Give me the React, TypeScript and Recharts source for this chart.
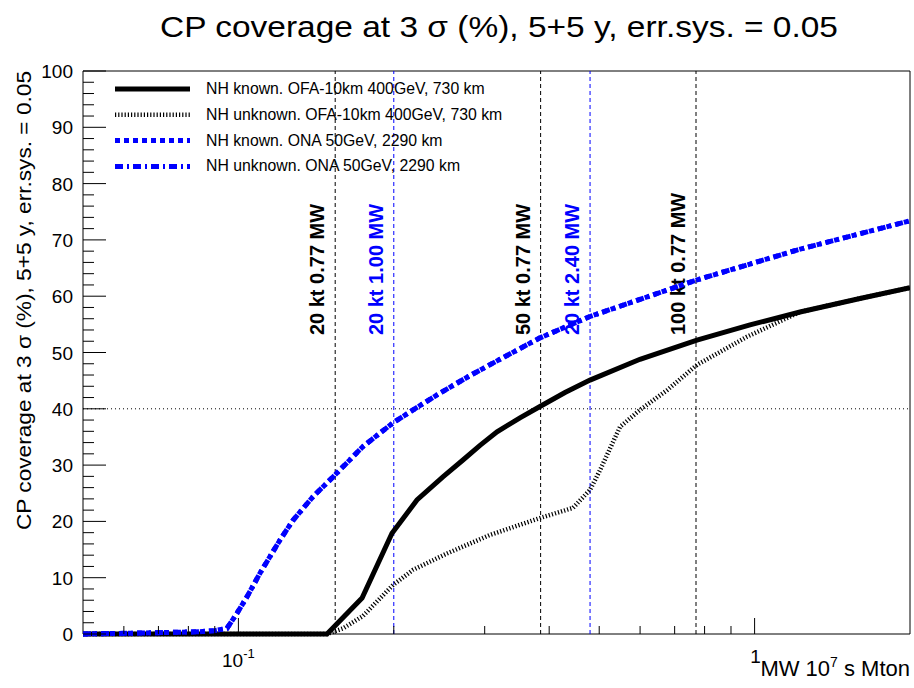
import React from "react";
import { LineChart, Line, XAxis, YAxis, ReferenceLine, ReferenceArea, Legend } from "recharts";

// MW 10^7 s Mton exposure vs CP coverage (%)
const knownOfaX = [0.05, 0.1485, 0.1736, 0.1984, 0.2218, 0.249, 0.2723, 0.2938, 0.317, 0.3511, 0.3839, 0.4292, 0.4799, 0.5997, 0.7733, 0.9797, 1.2245, 1.6, 2.0];
const knownOfaY = [0, 0, 6.4, 17.9, 23.8, 27.9, 30.9, 33.5, 35.9, 38.4, 40.4, 42.9, 45.1, 48.8, 52.2, 54.9, 57.2, 59.6, 61.5];

const unknownOfaX = [0.05, 0.1485, 0.1595, 0.1743, 0.1993, 0.218, 0.2535, 0.3073, 0.3839, 0.4448, 0.4799, 0.5018, 0.5487, 0.5997, 0.6766, 0.7733, 0.9667, 1.2245, 1.6, 2.0];
const unknownOfaY = [0, 0, 1.0, 3.2, 8.7, 11.4, 14.3, 17.6, 20.6, 22.4, 25.6, 29.1, 36.8, 39.8, 43.3, 47.8, 52.8, 57.2, 59.6, 61.5];

const onaX = [0.05, 0.0674, 0.0842, 0.0901, 0.095, 0.0994, 0.1039, 0.1101, 0.1204, 0.1276, 0.1395, 0.1525, 0.1743, 0.1993, 0.218, 0.2458, 0.281, 0.3212, 0.3839, 0.4799, 0.7733, 1.2084, 2.0];
const onaY = [0, 0.2, 0.4, 0.6, 1.0, 3.7, 6.6, 10.8, 16.7, 20.2, 24.4, 27.9, 33.3, 37.5, 39.8, 42.8, 45.9, 48.8, 52.6, 56.4, 62.9, 68.2, 73.4];

const xTicks = [0.06, 0.07, 0.08, 0.09, 0.1, 0.2, 0.3, 0.4, 0.5, 0.6, 0.7, 0.8, 0.9, 1];
const yTicks = [0, 2, 4, 6, 8, 10, 12, 14, 16, 18, 20, 22, 24, 26, 28, 30, 32, 34, 36, 38, 40, 42, 44, 46, 48, 50,
  52, 54, 56, 58, 60, 62, 64, 66, 68, 70, 72, 74, 76, 78, 80, 82, 84, 86, 88, 90, 92, 94, 96, 98, 100];

const markerX = [0.154, 0.2, 0.385, 0.48, 0.77];
const markerLabels = ["20 kt 0.77 MW", "20 kt 1.00 MW", "50 kt 0.77 MW", "20 kt 2.40 MW", "100 kt 0.77 MW"];
const markerColors = ["#000000", "#0000ff", "#000000", "#0000ff", "#000000"];

const xDomain = [0.05, 2];
const labelLevel = 53.1;

const toPoints = (xs: number[], ys: number[]) => xs.map((x, i) => ({ x, y: ys[i] }));

const series = [
  { name: "NH known. OFA-10km 400GeV, 730 km", data: toPoints(knownOfaX, knownOfaY), color: "#000000", width: 5, dash: undefined },
  { name: "NH unknown. OFA-10km 400GeV, 730 km", data: toPoints(unknownOfaX, unknownOfaY), color: "#000000", width: 4.5, dash: "1.2 2" },
  { name: "NH known. ONA 50GeV, 2290 km", data: toPoints(onaX, onaY), color: "#0000ff", width: 5, dash: "5 4" },
  { name: "NH unknown. ONA 50GeV, 2290 km", data: toPoints(onaX, onaY), color: "#0000ff", width: 5, dash: "8 4 2 4" },
];

const FONT = "'Liberation Sans', Arial, Helvetica, sans-serif";
const TITLE = "CP coverage at 3 σ (%), 5+5 y, err.sys. = 0.05";

function XTick(props: any) {
  const { x, y, payload } = props;
  const v = payload.value;
  const major = Math.abs(v - 0.1) < 1e-9 || Math.abs(v - 1) < 1e-9;
  return (
    <g>
      <line x1={x} x2={x} y1={y} y2={y - (major ? 16 : 8)} stroke="#000" strokeWidth={1} />
      {Math.abs(v - 0.1) < 1e-9 && (
        <text x={x} y={y + 33} textAnchor="middle" fontSize={19} fontFamily={FONT} fill="#000">
          10<tspan dy={-9} fontSize={13}>-1</tspan>
        </text>
      )}
      {Math.abs(v - 1) < 1e-9 && (
        <text x={x + 1} y={y + 29} textAnchor="middle" fontSize={19} fontFamily={FONT} fill="#000">1</text>
      )}
    </g>
  );
}

function YTick(props: any) {
  const { x, y, payload } = props;
  const v = payload.value;
  const major = v % 10 === 0;
  return (
    <g>
      <line x1={x} x2={x + (major ? 23 : 11)} y1={y} y2={y} stroke="#000" strokeWidth={1} />
      {major && (
        <text x={x - 10} y={y + 7} textAnchor="end" fontSize={19} fontFamily={FONT} fill="#000">{v}</text>
      )}
    </g>
  );
}

function MarkerLabel({ viewBox, text, color }: any) {
  if (!viewBox) return null;
  const bx = viewBox.x - 11;
  const by = viewBox.y + viewBox.height * (1 - labelLevel / 100);
  return (
    <text x={bx} y={by} transform={`rotate(-90, ${bx}, ${by})`} textAnchor="start" fontSize={20} fontWeight="bold" fontFamily={FONT} fill={color}>
      {text}
    </text>
  );
}

function LegendBox() {
  return (
    <svg width={440} height={110}>
      {series.map((s, i) => {
        const cy = 14 + i * 25.8;
        return (
          <g key={s.name}>
            <line x1={15} x2={90} y1={cy} y2={cy} stroke={s.color} strokeWidth={s.width} strokeDasharray={s.dash} />
            <text x={106} y={cy + 5} fontSize={15.8} fontFamily={FONT} fill="#000">{s.name}</text>
          </g>
        );
      })}
    </svg>
  );
}

export default function App() {
  return (
    <div style={{ position: "absolute", left: 0, top: 0, width: 914, height: 688, background: "#fff" }}>
      <LineChart width={914} height={688} margin={{ top: 71, right: 4, bottom: 0, left: 0 }}>
        <XAxis dataKey="x" type="number" scale="log" domain={xDomain} ticks={xTicks} interval={0}
          height={54} tickSize={0} tickMargin={0} axisLine={false} tickLine={false} tick={<XTick />} allowDataOverflow />
        <YAxis type="number" domain={[0, 100]} ticks={yTicks} interval={0} width={83}
          tickSize={0} tickMargin={0} axisLine={false} tickLine={false} tick={<YTick />} />
        <ReferenceArea x1={xDomain[0]} x2={xDomain[1]} y1={0} y2={100} fill="none" stroke="#000" strokeWidth={1} ifOverflow="visible" />
        <ReferenceLine y={40} stroke="#000" strokeWidth={1} strokeDasharray="1 3" />
        {markerX.map((mx, i) => (
          <ReferenceLine key={mx} x={mx} stroke={markerColors[i]} strokeWidth={1} strokeDasharray="4 3"
            label={(p: any) => <MarkerLabel viewBox={p.viewBox} text={markerLabels[i]} color={markerColors[i]} />} />
        ))}
        {series.map((s) => (
          <Line key={s.name} data={s.data} dataKey="y" name={s.name} type="linear" dot={false} activeDot={false}
            stroke={s.color} strokeWidth={s.width} strokeDasharray={s.dash} isAnimationActive={false} />
        ))}
        <Legend layout="horizontal" verticalAlign="middle" content={() => <LegendBox />}
          wrapperStyle={{ position: "absolute", left: 100, top: 75, width: 440, height: 110 }} />
      </LineChart>
      <svg width={914} height={688} style={{ position: "absolute", left: 0, top: 0, pointerEvents: "none" }}>
        <text x={499} y={37} textAnchor="middle" fontSize={30} textLength={678} lengthAdjust="spacingAndGlyphs" fontFamily={FONT} fill="#000">
          {TITLE}
        </text>
        <text x={31} y={71} transform="rotate(-90, 31, 71)" textAnchor="end" fontSize={20.5} textLength={459} lengthAdjust="spacingAndGlyphs" fontFamily={FONT} fill="#000">
          {TITLE}
        </text>
        <text x={910} y={676} textAnchor="end" fontSize={22} fontFamily={FONT} fill="#000">
          MW 10<tspan dy={-9} fontSize={14}>7</tspan><tspan dy={9}> s Mton</tspan>
        </text>
      </svg>
    </div>
  );
}
